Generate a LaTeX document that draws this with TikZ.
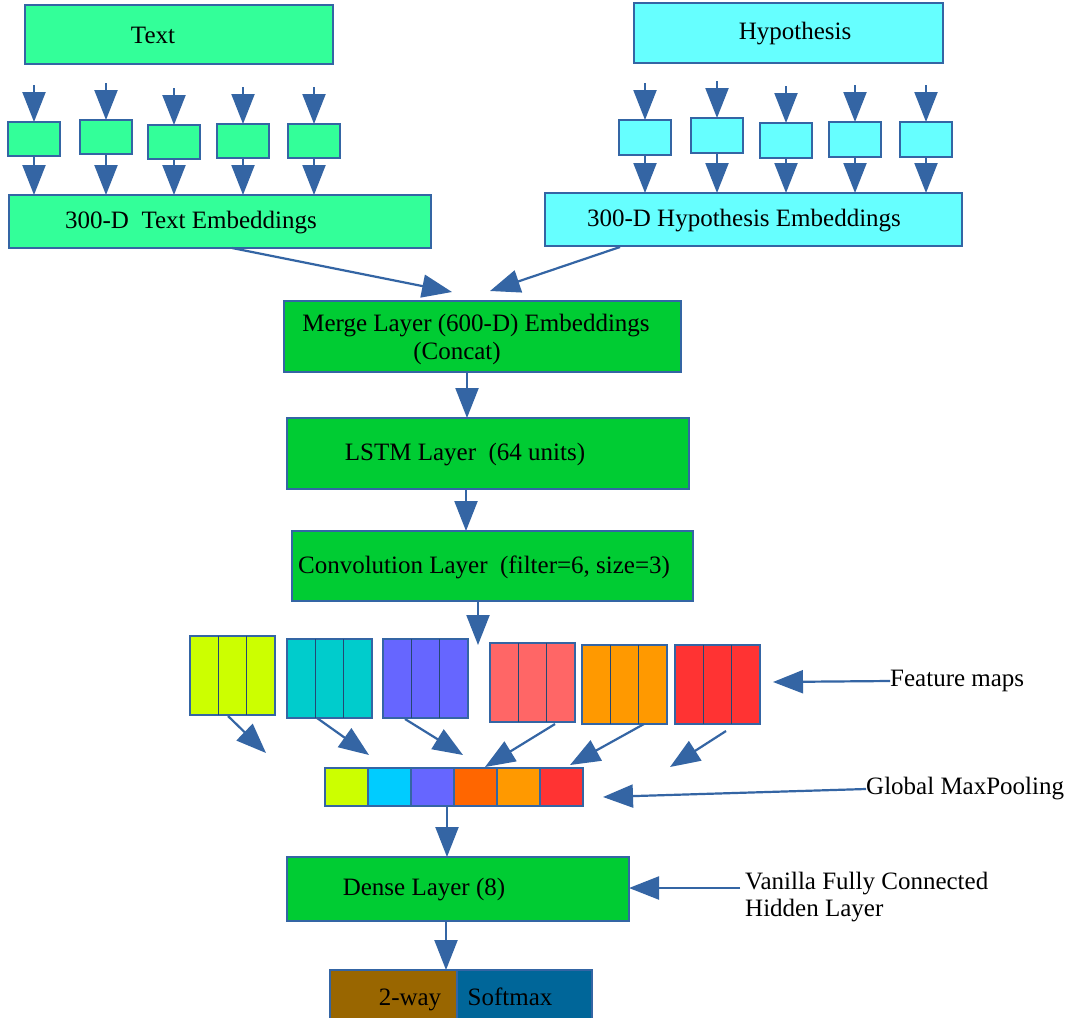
\documentclass[tikz,border=0pt]{standalone}
\usepackage{fontspec}
\setmainfont{Liberation Serif}
\usetikzlibrary{arrows.meta,calc}
\definecolor{lnblue}{HTML}{3465A4}
\definecolor{tgreen}{HTML}{33FF99}
\definecolor{hcyan}{HTML}{66FFFF}
\definecolor{lgreen}{HTML}{00CC33}
\definecolor{fm1}{HTML}{CCFF00}
\definecolor{fm2}{HTML}{00CCCC}
\definecolor{fm3}{HTML}{6666FF}
\definecolor{fm4}{HTML}{FF6666}
\definecolor{fm5}{HTML}{FF9900}
\definecolor{fm6}{HTML}{FF3333}
\definecolor{pl2}{HTML}{00CCFF}
\definecolor{pl4}{HTML}{FF6600}
\definecolor{sbrown}{HTML}{996600}
\definecolor{sblue}{HTML}{006699}
\begin{document}
\begin{tikzpicture}[x=1pt,y=-1pt,
  box/.style={draw=lnblue, line width=1.2pt, inner sep=0pt, outer sep=0pt, anchor=north west},
  arr/.style={draw=lnblue, line width=2.2pt, -{Triangle[width=23pt,length=30pt]}},
  lbl/.style={font=\fontsize{25}{29}\selectfont, inner sep=0pt, text=black}]
\useasboundingbox[fill=white] (0,0) rectangle (1070,1017);

% ---- top boxes
\node[box, fill=tgreen, minimum width=308pt, minimum height=59pt] (text) at (25,5) {};
\node[lbl] (textl) at (153,35) {Text};
\node[box, fill=hcyan, minimum width=309pt, minimum height=60pt] (hyp) at (634,3) {};
\node[lbl] (hypl) at (795,34) {Hypothesis};

% ---- embeddings boxes
\node[box, fill=tgreen, minimum width=422pt, minimum height=53pt] (temb) at (9,195) {};
\node[lbl] (tembl) at (191,223) {300-D\ \ Text Embeddings};
\node[box, fill=hcyan, minimum width=417pt, minimum height=53pt] (hemb) at (545,193) {};
\node[lbl] (hembl) at (744,221) {300-D Hypothesis Embeddings};

% ---- small boxes
\foreach \i/\x/\y in {1/8/122, 2/80/120, 3/148/125, 4/217/124, 5/288/124} {
  \node[box, fill=tgreen, minimum width=52pt, minimum height=34pt] (ts\i) at (\x,\y) {};
  \coordinate (tsa\i) at ($(ts\i.north)+(0,-37)$);
  \draw[arr] (tsa\i) -- (ts\i.north);
  \draw[arr] (ts\i.south) -- (ts\i.south |- temb.north);
}
\foreach \i/\x/\y in {1/619/120, 2/691/118, 3/760/123, 4/829/122, 5/900/122} {
  \node[box, fill=hcyan, minimum width=52pt, minimum height=35pt] (hs\i) at (\x,\y) {};
  \coordinate (hsa\i) at ($(hs\i.north)+(0,-37)$);
  \draw[arr] (hsa\i) -- (hs\i.north);
  \draw[arr] (hs\i.south) -- (hs\i.south |- hemb.north);
}

% ---- layers
\node[box, fill=lgreen, minimum width=397pt, minimum height=71pt] (merge) at (284,301) {};
\node[lbl] (mergel1) at (476,326) {Merge Layer (600-D) Embeddings};
\node[lbl] (mergel2) at (457,353) {(Concat)};
\node[box, fill=lgreen, minimum width=402pt, minimum height=71pt] (lstm) at (287,418) {};
\node[lbl] (lstml) at (465,455) {LSTM Layer\ \ (64 units)};
\node[box, fill=lgreen, minimum width=401pt, minimum height=70pt] (conv) at (292,531) {};
\node[lbl] (convl) at (484,567) {Convolution Layer\ \ (filter=6, size=3)};

\coordinate (e1) at (232,248);
\coordinate (e1t) at (452,292);
\coordinate (e2) at (620,247);
\coordinate (e2t) at (490,291);
\draw[arr] (e1) -- (e1t);
\draw[arr] (e2) -- (e2t);

\coordinate (m1) at (467,372);
\draw[arr] (m1) -- (m1 |- lstm.north);
\coordinate (l1) at (466,489);
\draw[arr] (l1) -- (l1 |- conv.north);
\coordinate (c1) at (478,601);
\coordinate (c1t) at (478,645);
\draw[arr] (c1) -- (c1t);

% ---- feature maps
\foreach \i/\x/\y/\c in {1/190/636/fm1, 2/287/639/fm2, 3/383/639/fm3, 4/490/643/fm4, 5/582/645/fm5, 6/675/645/fm6} {
  \node[box, fill=\c, minimum width=85pt, minimum height=79pt] (map\i) at (\x,\y) {};
  \draw[lnblue!70!black, line width=1.4pt] ($(map\i.north west)!1/3!(map\i.north east)$) -- ($(map\i.south west)!1/3!(map\i.south east)$);
  \draw[lnblue!70!black, line width=1.4pt] ($(map\i.north west)!2/3!(map\i.north east)$) -- ($(map\i.south west)!2/3!(map\i.south east)$);
}

% ---- pooling bar
\foreach \i/\c in {1/fm1, 2/pl2, 3/fm3, 4/pl4, 5/fm5, 6/fm6} {
  \node[box, fill=\c, minimum width=43pt, minimum height=38pt] (pool\i) at ({325+(\i-1)*43},768) {};
}

% ---- maps to pool arrows
\coordinate (p1) at (228,716);  \coordinate (p1t) at (266,753);
\coordinate (p2) at (317,718);  \coordinate (p2t) at (369,755);
\coordinate (p3) at (405,719);  \coordinate (p3t) at (463,755);
\coordinate (p4) at (555,724);  \coordinate (p4t) at (485,767);
\coordinate (p5) at (644,724);  \coordinate (p5t) at (570,765);
\coordinate (p6) at (726,731);  \coordinate (p6t) at (670,767);
\foreach \i in {1,...,6} { \draw[arr] (p\i) -- (p\i t); }

% ---- side labels
\node[lbl, anchor=west] (fml) at (890,681) {Feature maps};
\coordinate (fma) at (773,682);
\draw[arr] (fml.west) -- (fma);
\node[lbl, anchor=west] (gmp) at (866,789) {Global MaxPooling};
\coordinate (gmpa) at (603,797);
\draw[arr] (gmp.west) -- (gmpa);

% ---- dense
\node[box, fill=lgreen, minimum width=342pt, minimum height=64pt] (dense) at (287,857) {};
\node[lbl] (densel) at (424,890) {Dense Layer (8)};
\coordinate (pd) at (447,806);
\draw[arr] (pd) -- (pd |- dense.north);
\node[lbl, anchor=north west, align=left, font=\fontsize{25}{27}\selectfont] (van) at (745,872) {Vanilla Fully Connected\\Hidden Layer};
\coordinate (vs) at (740,888);
\draw[arr] (vs) -- (vs -| dense.east);

% ---- softmax
\node[box, fill=sbrown, minimum width=127pt, minimum height=50pt] (sm1) at (330,970) {};
\node[box, fill=sblue, minimum width=135pt, minimum height=50pt] (sm2) at (457,970) {};
\node[lbl, anchor=base] (sml1) at (410,1005) {2-way};
\node[lbl, anchor=base] (sml2) at (510,1005) {Softmax};
\coordinate (d1) at (446,921);
\draw[arr] (d1) -- (d1 |- sm1.north);
\end{tikzpicture}
\end{document}
